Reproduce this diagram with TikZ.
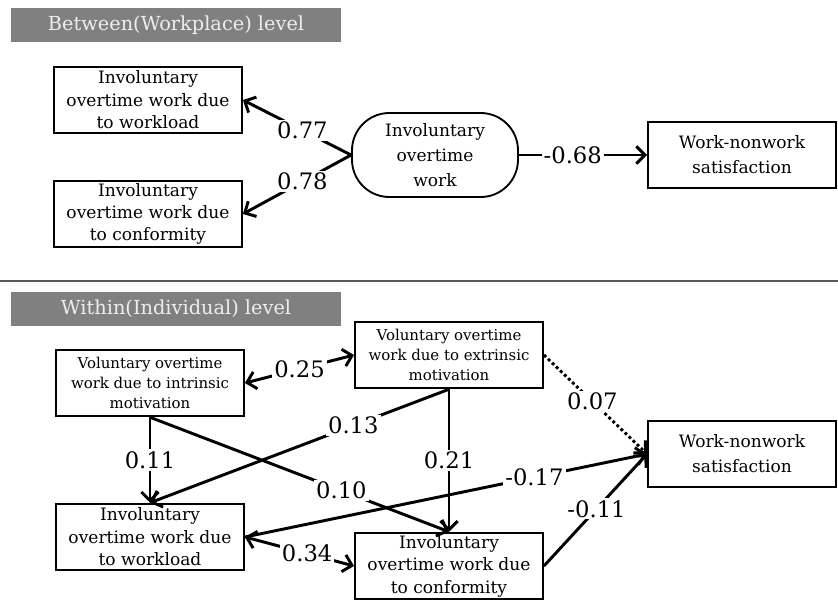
\documentclass[tikz,border=0pt]{standalone}
\usepackage{fontspec}
\setmainfont{DejaVu Serif}
\usetikzlibrary{arrows.meta}

\definecolor{bargray}{RGB}{128,128,128}
\definecolor{bartext}{RGB}{238,238,238}

\begin{document}
\begin{tikzpicture}[x=0.75pt,y=-0.75pt,
    box/.style={draw,line width=1.4pt,minimum width=141pt,minimum height=50pt,align=center,
      inner sep=1pt,font=\fontsize{12.8}{16.8}\selectfont},
    smallbox/.style={box,font=\fontsize{11.2}{15}\selectfont},
    widebox/.style={box,font=\fontsize{12.8}{18.8}\selectfont},
    header/.style={fill=bargray,text=bartext,minimum width=247.5pt,minimum height=25.5pt,
      font=\fontsize{14.5}{16}\selectfont},
    conn/.style={line width=2.2pt},
    lbl/.style={fill=white,inner sep=1.5pt,font=\fontsize{17}{19}\selectfont},
    >={Straight Barb[length=6.5pt,width=13pt]}]
    \useasboundingbox (0,0) rectangle (838,601);

    % Between level
    \node[header] (hbetween) at (176,25) {Between(Workplace) level};
    \node[box] (wload1) at (148,100) {Involuntary\\overtime work due\\to workload};
    \node[box] (conf1) at (148,214) {Involuntary\\overtime work due\\to conformity};
    \node[widebox,rounded corners=28pt,minimum width=124.5pt,minimum height=63pt] (invol) at (435,155)
      {Involuntary\\overtime\\work};
    \node[widebox] (sat1) at (742,155) {Work-nonwork\\satisfaction};

    \draw[conn,->] (invol.west) -- node[lbl,pos=0.45]{0.77} (wload1.east);
    \draw[conn,->] (invol.west) -- node[lbl,pos=0.45]{0.78} (conf1.east);
    \draw[conn,->] (invol.east) -- node[lbl,pos=0.42]{-0.68} (sat1.west);

    % separator
    \draw[black!65,line width=0.8pt] (0,281) -- (838,281);

    % Within level
    \node[header] (hwithin) at (176,309) {Within(Individual) level};
    \node[smallbox] (intr) at (150,383) {Voluntary overtime\\work due to intrinsic\\motivation};
    \node[smallbox] (extr) at (449,355) {Voluntary overtime\\work due to extrinsic\\motivation};
    \node[box] (wload2) at (150,537) {Involuntary\\overtime work due\\to workload};
    \node[box] (conf2) at (449,566) {Involuntary\\overtime work due\\to conformity};
    \node[widebox] (sat2) at (742,454) {Work-nonwork\\satisfaction};

    \draw[conn,<->] (intr.east) -- node[lbl]{0.25} (extr.west);
    \draw[conn,->] (intr.south) -- node[lbl]{0.11} (wload2.north);
    \draw[conn,->] (intr.south) -- node[lbl,pos=0.64]{0.10} (conf2.north);
    \draw[conn,->] (extr.south) -- node[lbl,pos=0.32]{0.13} (wload2.north);
    \draw[conn,->] (extr.south) -- node[lbl]{0.21} (conf2.north);
    \draw[conn,dotted,->] (extr.east) -- node[lbl,pos=0.47]{0.07} (sat2.west);
    \draw[conn,->] (wload2.east) -- node[lbl,pos=0.72]{-0.17} (sat2.west);
    \draw[conn,->] (conf2.east) -- node[lbl,pos=0.51]{-0.11} (sat2.west);
    \draw[conn,<->] (wload2.east) -- node[lbl,pos=0.57]{0.34} (conf2.west);
\end{tikzpicture}
\end{document}
